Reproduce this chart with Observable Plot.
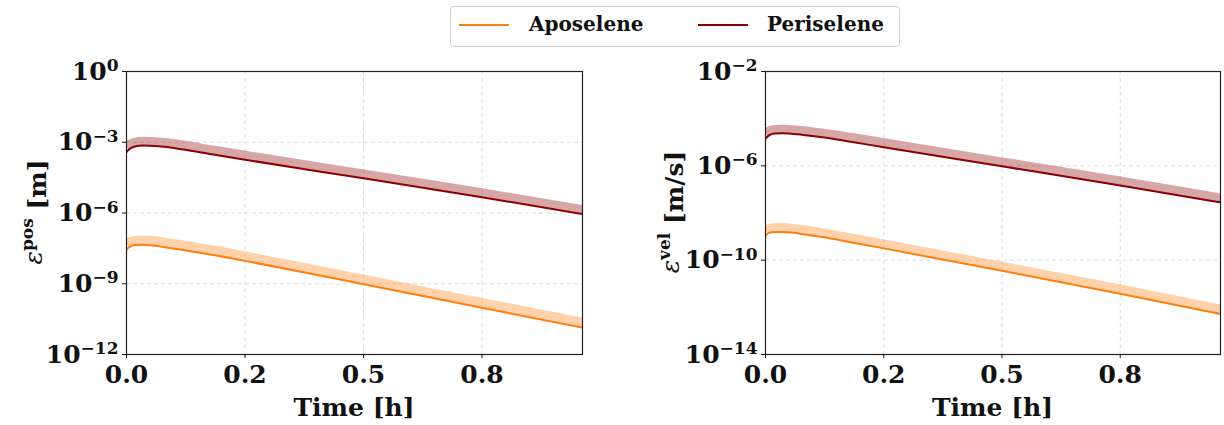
<!DOCTYPE html>
<html><head><meta charset="utf-8">
<script src="https://cdn.jsdelivr.net/npm/d3@7"></script>
<script src="https://cdn.jsdelivr.net/npm/@observablehq/plot@0.6"></script>
<style>
body{margin:0;background:#fff;}
#wrap{position:relative;width:1224px;height:425px;overflow:hidden;background:#fff;font-family:"DejaVu Serif",serif;font-weight:bold;}
.panel{position:absolute;top:0;}
#legend{position:absolute;left:450px;top:6px;width:450px;height:41px;border:1px solid #d0d0d0;border-radius:4px;box-sizing:border-box;background:#fff;}
.sw{position:absolute;top:17px;width:50px;height:2.2px;}
.lt{position:absolute;top:5px;font-size:20px;line-height:24px;color:#111;}
</style></head>
<body>
<div id="wrap">
  <div class="panel" id="left" style="left:0"></div>
  <div class="panel" id="right" style="left:612px"></div>
  <div id="legend">
    <div class="sw" style="left:8px;background:#ff7f0e"></div><div class="lt" style="left:78px">Aposelene</div>
    <div class="sw" style="left:247px;background:#8b0000"></div><div class="lt" style="left:316px">Periselene</div>
  </div>
</div>
<script>
// time samples [h]
const time = [0, 0.005, 0.01, 0.02, 0.035, 0.05, 0.08, 0.12, 0.18, 0.25, 0.5, 0.75, 0.962];
// position error [m]
const posApo     = [2.75e-8, 3.47e-8, 3.98e-8, 4.37e-8, 4.47e-8, 4.27e-8, 3.55e-8, 2.69e-8, 1.70e-8, 9.33e-9, 9.55e-10, 9.55e-11, 1.38e-11];
const posApoRef  = [4.57e-8, 5.62e-8, 6.46e-8, 7.08e-8, 7.24e-8, 6.92e-8, 5.75e-8, 4.37e-8, 2.75e-8, 1.51e-8, 1.55e-9, 1.58e-10, 2.34e-11];
const posPeri    = [3.80e-4, 4.90e-4, 5.75e-4, 6.76e-4, 7.24e-4, 7.08e-4, 6.46e-4, 4.90e-4, 3.09e-4, 1.82e-4, 2.95e-5, 4.68e-6, 8.91e-7];
const posPeriRef = [6.03e-4, 7.76e-4, 8.91e-4, 1.02e-3, 1.10e-3, 1.07e-3, 9.77e-4, 7.59e-4, 4.79e-4, 2.82e-4, 4.57e-5, 7.24e-6, 1.38e-6];
// velocity error [m/s]
const velApo     = [1.10e-9, 1.35e-9, 1.48e-9, 1.55e-9, 1.58e-9, 1.51e-9, 1.26e-9, 9.55e-10, 5.75e-10, 3.16e-10, 3.55e-11, 3.80e-12, 5.25e-13];
const velApoRef  = [1.74e-9, 2.09e-9, 2.29e-9, 2.40e-9, 2.45e-9, 2.34e-9, 1.95e-9, 1.48e-9, 8.91e-10, 4.90e-10, 5.50e-11, 6.03e-12, 8.51e-13];
const velPeri    = [1.41e-5, 1.82e-5, 2.09e-5, 2.34e-5, 2.40e-5, 2.34e-5, 2.04e-5, 1.62e-5, 1.05e-5, 6.17e-6, 9.55e-7, 1.48e-7, 2.82e-8];
const velPeriRef = [2.24e-5, 2.82e-5, 3.16e-5, 3.47e-5, 3.55e-5, 3.47e-5, 3.09e-5, 2.45e-5, 1.62e-5, 9.55e-6, 1.48e-6, 2.29e-7, 4.37e-8];

const seriesNames = ["Aposelene", "Periselene"];
const seriesColors = ["#ff7f0e", "#8b0000"];
const timeTicks = [0, 0.25, 0.5, 0.75];
const timeTickLabels = ["0.0", "0.2", "0.5", "0.8"];
const timeDomain = [0, 0.962];
const posTicks = [1e-12, 1e-9, 1e-6, 1e-3, 1e0];
const velTicks = [1e-14, 1e-10, 1e-6, 1e-2];

function rows(vals, name) { return time.map((t, i) => ({t, v: vals[i], series: name})); }

const FONT = "DejaVu Serif";

function panel(opts) {
  const lines = [...rows(opts.apo, "Aposelene"), ...rows(opts.peri, "Periselene")];
  const bands = [...rows(opts.apoRef, "Aposelene"), ...rows(opts.periRef, "Periselene")];
  const svg = Plot.plot({
    width: 612, height: 425,
    marginLeft: opts.ml, marginRight: opts.mr, marginTop: 71, marginBottom: 71,
    style: {fontFamily: FONT, fontWeight: "bold", background: "transparent", color: "#111", overflow: "visible"},
    x: {domain: timeDomain},
    y: {type: "log", domain: opts.domain},
    color: {domain: seriesNames, range: seriesColors},
    marks: [
      Plot.gridX(timeTicks, {stroke: "#b0b0b0", strokeOpacity: 0.55, strokeDasharray: "4,3", strokeWidth: 0.8}),
      Plot.gridY(opts.ticks, {stroke: "#b0b0b0", strokeOpacity: 0.55, strokeDasharray: "4,3", strokeWidth: 0.8}),
      Plot.line(bands, {x: "t", y: "v", z: "series", stroke: "series", strokeWidth: 9, strokeOpacity: 0.35, curve: "monotone-x", strokeLinecap: "butt", clip: true}),
      Plot.line(lines, {x: "t", y: "v", z: "series", stroke: "series", strokeWidth: 2, curve: "monotone-x", clip: true}),
      Plot.frame({stroke: "#222", strokeWidth: 1.2}),
      Plot.axisX(timeTicks, {tickSize: 4, tickPadding: 7, fontSize: 25, tickFormat: (d, i) => timeTickLabels[i], label: null}),
      Plot.axisY(opts.ticks, {tickSize: 4, tickPadding: 4, fontSize: 25, tickFormat: d => "10^" + Math.round(Math.log10(d)), label: null})
    ]
  });
  const s = d3.select(svg);
  // superscript exponents on y tick labels
  s.selectAll("g[aria-label='y-axis tick label'] text").each(function() {
    const txt = this.textContent;
    const exp = txt.split("^")[1].replace("-", "\u2212");
    const t = d3.select(this);
    t.text("");
    t.append("tspan").text("10");
    t.append("tspan").attr("dy", "-0.5em").attr("font-size", "17px").text(exp);
  });
  const cx = opts.ml + (612 - opts.ml - opts.mr) / 2;
  s.append("text").attr("x", cx).attr("y", 416).attr("text-anchor", "middle")
    .attr("font-size", 25).attr("font-family", FONT).attr("font-weight", "bold").attr("fill", "#111")
    .text("Time [h]");
  const yl = s.append("text").attr("transform", `translate(${opts.ylx},212) rotate(-90)`)
    .attr("text-anchor", "middle").attr("font-size", 25).attr("font-family", FONT).attr("fill", "#111");
  yl.append("tspan").attr("font-style", "italic").attr("font-weight", "normal").text("\u03b5");
  yl.append("tspan").attr("dy", "-0.55em").attr("font-size", "17px").attr("font-weight", "bold").text(opts.sup);
  yl.append("tspan").attr("dy", "0.55em").attr("font-weight", "bold").text(" " + opts.unit);
  return svg;
}

document.getElementById("left").append(panel({
  apo: posApo, apoRef: posApoRef, peri: posPeri, periRef: posPeriRef,
  domain: [1e-12, 1e0], ticks: posTicks, ml: 126, mr: 30, ylx: 42, sup: "pos", unit: "[m]"
}));
document.getElementById("right").append(panel({
  apo: velApo, apoRef: velApoRef, peri: velPeri, periRef: velPeriRef,
  domain: [1e-14, 1e-2], ticks: velTicks, ml: 153, mr: 4, ylx: 67, sup: "vel", unit: "[m/s]"
}));
</script>
</body></html>
